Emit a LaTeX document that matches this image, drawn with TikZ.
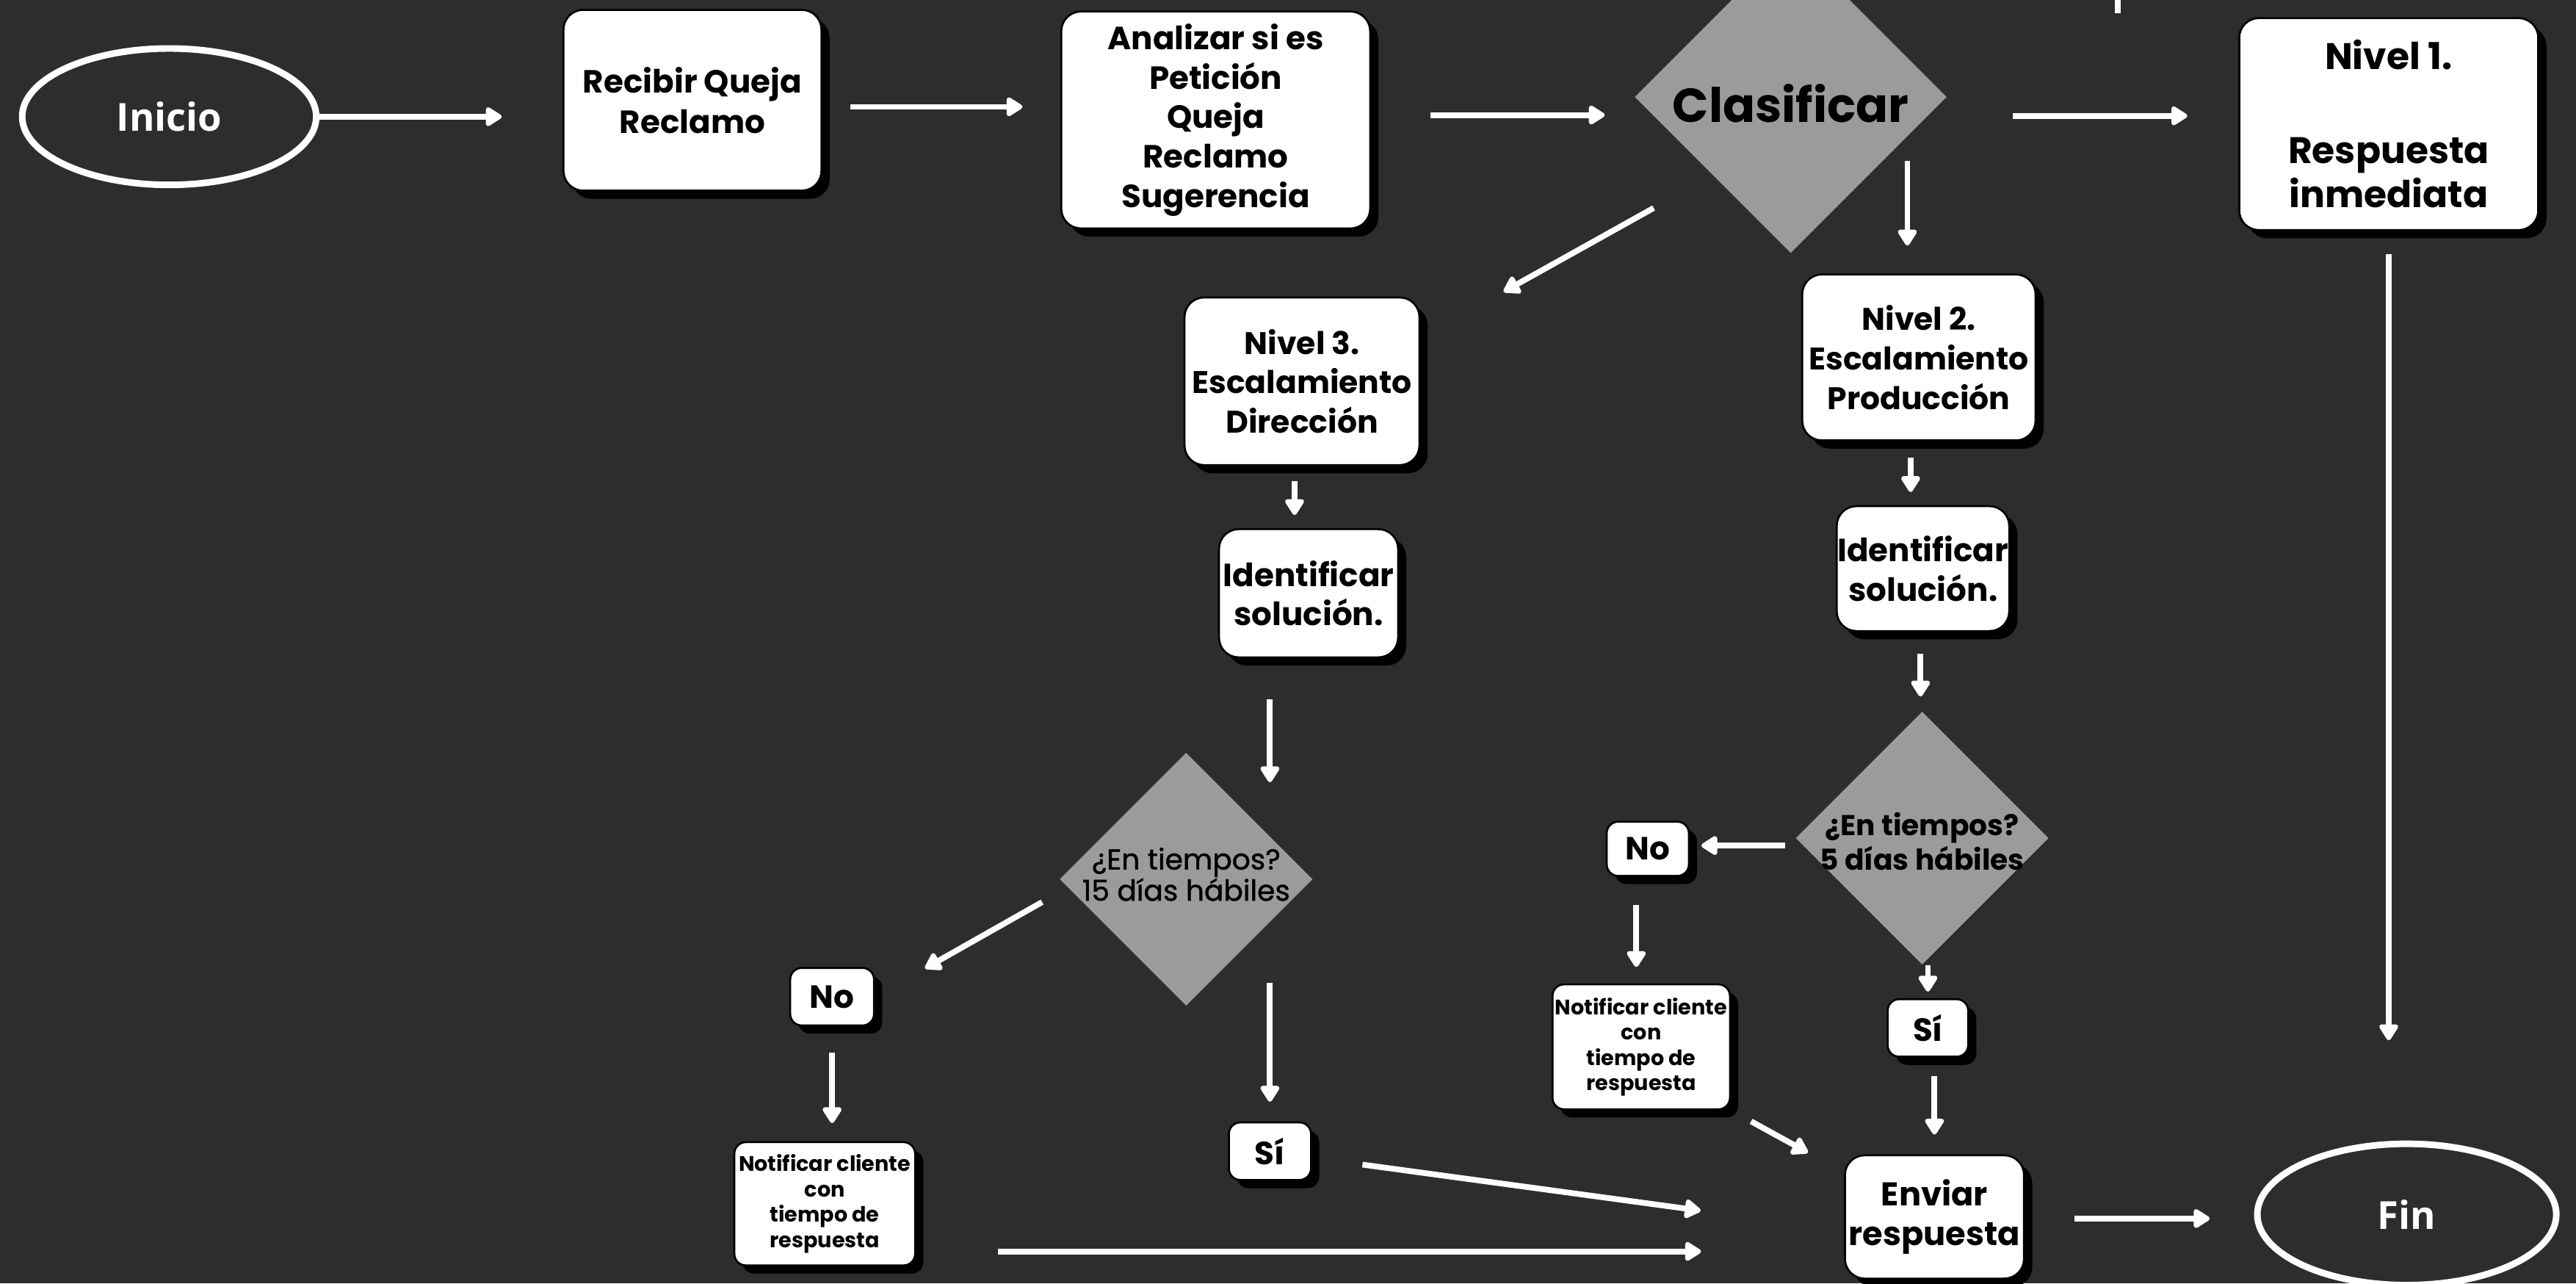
\documentclass[tikz,border=0pt]{standalone}
\usepackage{fontspec}
\setmainfont{Poppins}
\newfontfamily\mediafont{Poppins}[FakeBold=1.2]
\newfontfamily\extremofont{Open Sans}
\usetikzlibrary{positioning,arrows.meta,shapes.geometric,shadows}

\definecolor{pizarra}{HTML}{2D2D2D}
\definecolor{grisrombo}{HTML}{9B9B9B}

\begin{document}
\begin{tikzpicture}[
    ->,
    >={Triangle[round,length=11pt,width=13pt]},
    x=1pt, y=-1pt
]

\tikzstyle{paso}=[
    rectangle,
    rounded corners=12pt,
    draw=black,
    line width=1.2pt,
    fill=white,
    drop shadow={shadow xshift=5pt, shadow yshift=-5pt, fill=black, opacity=1},
    inner sep=0pt,
    align=center,
    font=\fontsize{19.5}{24.5}\selectfont\bfseries
]
\tikzstyle{chico}=[paso, rounded corners=7pt]
\tikzstyle{aviso}=[chico, font=\fontsize{12.8}{15.4}\selectfont\bfseries]
\tikzstyle{decision}=[diamond, fill=grisrombo, draw=none, inner sep=0pt]
\tikzstyle{extremo}=[
    ellipse,
    draw=white,
    line width=4pt,
    text=white,
    font=\extremofont\fontsize{23.5}{26}\selectfont\bfseries
]
\tikzstyle{flecha}=[draw=white, line width=3.5pt]

% fondo
\fill[pizarra] (0,0) rectangle (1568,781);
\useasboundingbox (0,0) rectangle (1568,781);

% fila de arriba
\node[extremo, minimum width=179pt, minimum height=83pt] (inicio) at (103,71) {Inicio};
\node[paso, minimum width=157pt, minimum height=110pt] (recibir) at (421.5,61) {Recibir Queja\\Reclamo};
\node[paso, minimum width=188pt, minimum height=132pt, font=\fontsize{19.5}{24}\selectfont\bfseries]
    (analizar) at (740,73) {Analizar si es\\Petición\\Queja\\Reclamo\\Sugerencia};
\node[decision, minimum width=190pt, minimum height=190pt,
    label={[font=\fontsize{29}{33}\selectfont\bfseries, yshift=-4pt]center:Clasificar}] (clas) at (1090,59) {};
\node[paso, minimum width=182pt, minimum height=129pt, font=\fontsize{22.5}{27}\selectfont\bfseries]
    (nivel1) at (1454,75.5) {Nivel 1.\\[30pt]Respuesta\\inmediata};

% niveles 3 y 2
\node[paso, minimum width=143pt, minimum height=102pt, font=\fontsize{19}{24}\selectfont\bfseries]
    (nivel3) at (792.5,232) {Nivel 3.\\Escalamiento\\Dirección};
\node[paso, minimum width=142pt, minimum height=101pt, font=\fontsize{19}{24}\selectfont\bfseries]
    (nivel2) at (1168,217.5) {Nivel 2.\\Escalamiento\\Producción};
\node[paso, minimum width=109pt, minimum height=78pt, font=\fontsize{19.5}{24}\selectfont\bfseries]
    (ident3) at (796.5,361) {Identificar\\solución.};
\node[paso, minimum width=105pt, minimum height=76pt, font=\fontsize{19.5}{24}\selectfont\bfseries]
    (ident2) at (1170.5,346) {Identificar\\solución.};

\node[decision, minimum width=154pt, minimum height=154pt,
    label={[align=center, font=\mediafont\fontsize{17.5}{19}\selectfont, yshift=3pt]center:{¿En tiempos?\\15 días hábiles}}]
    (dec3) at (722,535) {};
\node[decision, minimum width=154pt, minimum height=154pt,
    label={[align=center, font=\fontsize{17.5}{21}\selectfont\bfseries, yshift=-2pt]center:{¿En tiempos?\\5 días hábiles}}]
    (dec2) at (1170,510) {};

% respuestas
\node[chico, minimum width=51pt, minimum height=35pt] (no3) at (506.5,606.5) {No};
\node[chico, minimum width=50pt, minimum height=35pt] (si3) at (773,700.5) {Sí};
\node[aviso, minimum width=110pt, minimum height=75pt] (notif3) at (502,732.5)
    {Notificar cliente\\con\\tiempo de\\respuesta};
\node[chico, minimum width=50pt, minimum height=33pt] (no2) at (1003,516.5) {No};
\node[aviso, minimum width=108pt, minimum height=76pt] (notif2) at (999,637)
    {Notificar cliente\\con\\tiempo de\\respuesta};
\node[chico, minimum width=49pt, minimum height=35pt] (si2) at (1173.5,625.5) {Sí};
\node[paso, minimum width=109pt, minimum height=75pt, font=\fontsize{20}{24}\selectfont\bfseries]
    (enviar) at (1177.5,740.5) {Enviar\\respuesta};
\node[extremo, minimum width=182pt, minimum height=86pt] (fin) at (1465,739) {Fin};

% flechas
\draw[flecha, shorten >=37pt] (inicio.east) -- (inicio.east -| recibir.west);
\draw[flecha, shorten <=17pt, shorten >=23pt] ([yshift=-4pt]recibir.east) -- ([yshift=-4pt]recibir.east -| analizar.west);
\draw[flecha, shorten <=36pt, shorten >=18pt] ([yshift=3pt]analizar.east) -- ([yshift=3pt]analizar.east -| clas.west);
\draw[flecha, shorten <=40pt, shorten >=31pt] ([yshift=5pt]nivel1.west -| clas.east) -- ([yshift=5pt]nivel1.west);
\draw[flecha, shorten <=41pt, shorten >=58pt] (clas.south west) -- (nivel3.20);
\draw[flecha, shorten <=39pt, shorten >=17pt] ([xshift=-7pt]clas.east -| nivel2.north) -- ([xshift=-7pt]nivel2.north);
\draw[flecha, shorten <=14pt, shorten >=61pt] (nivel1.south) -- (nivel1.south |- fin.north);

\draw[flecha, shorten <=9pt, shorten >=8pt] ([xshift=-4.5pt]nivel3.south) -- ([xshift=-4.5pt]nivel3.south |- ident3.north);
\draw[flecha, shorten <=10pt, shorten >=8pt] ([xshift=-5pt]nivel2.south) -- ([xshift=-5pt]nivel2.south |- ident2.north);
\draw[flecha, shorten <=25pt, shorten >=59pt] ([xshift=-23.5pt]ident3.south) -- ([xshift=-23.5pt]ident3.south |- dec3);
\draw[flecha, shorten <=13pt, shorten >=9pt] ([xshift=-1.5pt]ident2.south) -- ([xshift=-1.5pt]ident2.south |- dec2.north);

\draw[flecha, shorten <=12pt, shorten >=35pt] ([yshift=-8pt]dec3.west) -- (no3.east);
\draw[flecha, shorten <=63pt, shorten >=12pt] (si3.north |- dec3) -- (si3.north);
\draw[flecha, shorten <=16pt, shorten >=11pt] (no3.south) -- (no3.south |- notif3.north);
\draw[flecha, shorten <=31pt, shorten >=88pt] ([yshift=-4pt]si3.east) -- ([yshift=-8pt]enviar.west);
\draw[flecha, shorten <=50pt, shorten >=87pt] ([yshift=-29pt]notif3.east) -- ([yshift=-29pt]notif3.east -| enviar.west);

\draw[flecha, shorten <=6pt, shorten >=7pt] ([yshift=2pt]no2.east -| dec2.west) -- ([yshift=2pt]no2.east);
\draw[flecha, shorten <=17pt, shorten >=10pt] ([xshift=-7pt]no2.south) -- ([xshift=-7pt]no2.south |- notif2.north);
\draw[flecha, shorten >=4pt] (si2.north |- dec2.south) -- (si2.north);
\draw[flecha, shorten <=11pt, shorten >=12pt] (si2.south -| enviar.north) -- (enviar.north);
\draw[flecha, shorten <=14pt, shorten >=25pt] (notif2.south east) -- ([yshift=-11pt]enviar.north west);
\draw[flecha, shorten <=30pt, shorten >=27pt] ([yshift=-1pt]enviar.east) -- ([yshift=-1pt]enviar.east -| fin.west);

% trazo que entra por arriba
\coordinate (cabo) at (1289,-10);
\coordinate (cola) at (1289,8);
\draw[flecha, -] (cabo) -- (cola);

\end{tikzpicture}
\end{document}
